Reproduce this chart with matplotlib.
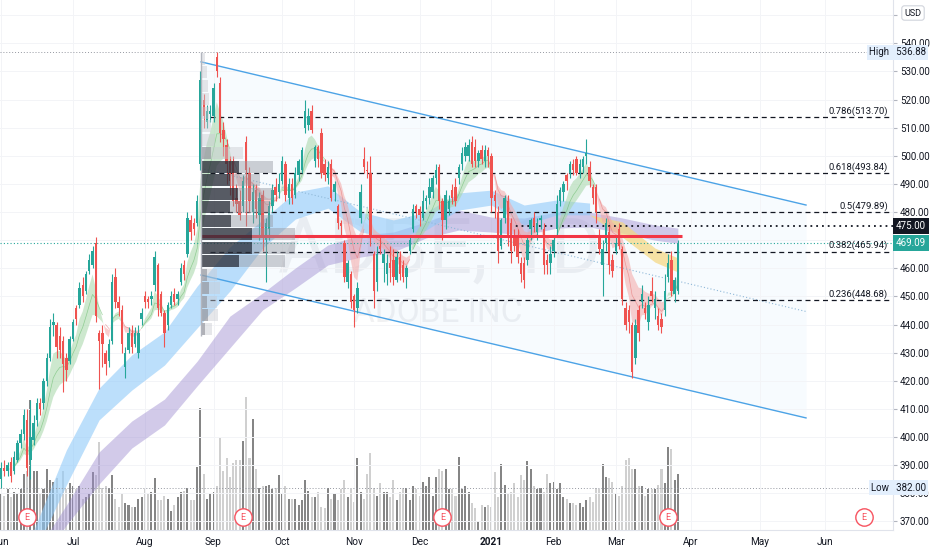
import matplotlib
matplotlib.use("Agg")
import matplotlib.pyplot as plt
import matplotlib.transforms as mtransforms
import numpy as np
import pandas as pd

plt.rcParams['font.family'] = ['Roboto', 'DejaVu Sans']

# NYSE holidays in the shown range
holidays = ['2020-07-03', '2020-09-07', '2020-11-26', '2020-12-25', '2021-01-01',
            '2021-01-18', '2021-02-15', '2021-04-02', '2021-05-31']

# daily candles, 2020-06-01 .. 2021-03-26
opens = [385, 389, 388, 391, 388, 392, 398, 401, 406, 392, 399, 406, 412, 412, 420, 428, 440, 440, 436, 434,
         428, 427, 435, 446, 447, 454, 452, 459, 461, 469, 437, 437, 430, 427, 434, 457, 448, 445, 425, 431,
         437, 433, 430, 442, 450, 449, 449, 454, 461, 451, 444, 440, 447, 451, 449, 455, 461, 465, 477, 476,
         476, 497, 520, 512, 515, 514, 535, 526, 509, 504, 498, 498, 485, 484, 482, 505, 494, 480, 488, 479,
         486, 470, 474, 482, 489, 487, 491, 497, 485, 490, 486, 493, 495, 510, 511, 516, 498, 503, 508, 497,
         492, 497, 487, 482, 476, 469, 455, 458, 450, 446, 478, 499, 495, 494, 465, 455, 468, 462, 458, 462,
         463, 456, 464, 461, 457, 466, 474, 482, 481, 478, 484, 485, 487, 492, 496, 484, 477, 481, 488, 489,
         492, 497, 500, 500, 505, 503, 498, 502, 498, 502, 500, 486, 480, 468, 478, 484, 476, 472, 472, 462,
         462, 463, 474, 478, 473, 477, 474, 463, 462, 466, 474, 484, 487, 493, 494, 497, 499, 494, 496, 500,
         496, 489, 489, 472, 461, 469, 473, 463, 466, 474, 467, 446, 445, 440, 428, 445, 448, 446, 441, 452,
         446, 443, 442, 445, 457, 463, 451, 452]
highs = [391, 392, 391, 393, 395, 399, 403, 410, 410, 413, 408, 414, 414, 421, 430, 442, 444, 441, 439, 436,
         430, 436, 442, 447, 455, 457, 459, 465, 468, 471, 438, 440, 431, 435, 458, 460, 450, 447, 432, 439,
         440, 439, 440, 446, 452, 450, 452, 466, 462, 452, 445, 448, 452, 453, 452, 462, 463, 480, 479, 478,
         486, 530, 522, 518, 518, 526, 536.88, 528, 512, 506, 500, 500, 490, 488, 493, 507, 496, 490, 490, 487,
         488, 478, 484, 490, 492, 494, 500, 498, 492, 492, 496, 499, 503, 520, 517, 518, 504, 504, 510, 499,
         498, 499, 491, 483, 477, 470, 463, 459, 451, 455, 490, 503, 498, 500, 466, 468, 471, 467, 465, 468,
         467, 466, 466, 463, 461, 471, 483, 483, 482, 488, 486, 492, 493, 497, 497, 485, 488, 486, 490, 492,
         497, 503, 505, 506, 507, 506, 502, 504, 504, 503, 501, 488, 482, 478, 486, 486, 478, 474, 474, 464,
         464, 472, 478, 480, 478, 479, 476, 465, 468, 472, 486, 489, 491, 494, 498, 499, 500, 499, 500, 506,
         498, 490, 490, 474, 470, 478, 475, 465, 472, 476, 468, 448, 447, 441, 442, 447, 454, 448, 450, 457,
         452, 446, 444, 458, 465, 466, 457, 470]
lows = [382, 386, 386, 384, 387, 391, 396, 399, 386, 385, 397, 404, 408, 410, 418, 427, 436, 428, 428, 416,
        420, 426, 434, 440, 446, 448, 451, 458, 460, 441, 417, 425, 422, 425, 433, 446, 443, 430, 421, 430,
        430, 432, 428, 440, 446, 446, 447, 452, 443, 443, 432, 438, 446, 447, 447, 454, 456, 464, 470, 472,
        475, 495, 510, 510, 512, 512, 528, 505, 500, 490, 486, 482, 480, 477, 480, 475, 480, 476, 478, 470,
        466, 455, 470, 480, 484, 485, 490, 484, 483, 483, 485, 491, 494, 508, 509, 508, 496, 496, 492, 491,
        490, 484, 484, 474, 472, 455, 453, 446, 439, 444, 476, 494, 492, 468, 446, 452, 465, 455, 454, 455,
        454, 455, 456, 455, 453, 465, 473, 478, 475, 477, 481, 483, 485, 490, 481, 470, 474, 479, 483, 482,
        490, 495, 498, 498, 496, 496, 496, 497, 496, 496, 480, 478, 462, 467, 476, 468, 462, 466, 462, 455,
        453, 461, 470, 473, 470, 474, 458, 458, 458, 464, 472, 482, 484, 488, 492, 493, 493, 492, 494, 497,
        489, 483, 476, 465, 450, 466, 458, 457, 465, 467, 447, 438, 437, 421, 426, 434, 446, 442, 438, 448,
        442, 438, 437, 443, 455, 450, 448, 451]
closes = [389, 388, 390, 386, 393, 398, 401, 408, 389, 400, 405, 412, 410, 420, 428, 439, 441, 432, 431, 426,
          424, 435, 441, 442, 453, 450, 458, 463, 466, 443, 434, 433, 426, 433, 455, 448, 446, 433, 430, 437,
          432, 437, 437, 444, 448, 448, 450, 464, 446, 444, 437, 447, 450, 448, 451, 460, 458, 478, 473, 474,
          484, 527, 514, 516, 516, 524, 530, 508, 506, 497, 491, 484, 483, 479, 491, 495, 484, 487, 481, 485,
          472, 476, 482, 488, 486, 490, 498, 486, 490, 485, 494, 498, 502, 516, 514, 509, 503, 499, 494, 493,
          496, 485, 490, 476, 475, 457, 462, 448, 445, 453, 487, 496, 494.5, 471, 452, 465, 467, 465, 462, 460,
          457, 464, 458, 457, 460, 470, 481, 480, 479, 484, 485, 489, 492, 495, 484, 477, 486, 484, 485, 484,
          496, 501, 503, 504, 497, 498, 501, 499, 502, 500, 485, 484, 466, 477, 485, 472, 466, 468, 464, 458,
          456, 470, 477, 475, 476, 478, 461, 461, 465, 470, 483, 488, 490, 491, 497, 495, 494, 497, 499, 501,
          491, 485, 480, 467, 467, 476, 461, 459, 469, 468, 449, 440, 441, 423, 440, 437, 451, 444, 447, 450,
          449, 440, 439, 452, 462, 452, 456, 469.09]
volumes = [2.3, 2.2, 2.6, 2.1, 2.4, 2.3, 2.6, 3.6, 3.8, 8.3, 3.8, 3.8, 2.3, 2.6, 3.9, 3.2, 3.1, 3.3, 2.3, 3.8,
           2.6, 3.0, 2.8, 2.6, 2.8, 2.0, 2.1, 2.3, 3.7, 3.5, 5.6, 2.7, 2.8, 2.7, 3.5, 2.0, 1.5, 2.3, 1.7, 1.6,
           1.5, 1.5, 2.0, 2.1, 2.6, 2.3, 2.4, 3.3, 1.9, 1.9, 2.2, 2.0, 1.2, 1.6, 2.1, 2.4, 2.5, 2.7, 1.9, 1.9,
           4.0, 7.8, 3.6, 2.0, 2.3, 2.4, 2.8, 5.9, 3.8, 4.6, 3.4, 4.3, 4.5, 4.5, 5.7, 8.5, 4.6, 7.1, 3.9, 2.7,
           2.8, 2.8, 2.9, 2.6, 2.7, 3.5, 2.3, 2.8, 2.0, 2.0, 2.0, 1.6, 1.9, 3.2, 2.5, 2.1, 2.1, 2.4, 1.5, 1.4,
           2.7, 2.0, 2.3, 1.9, 2.6, 3.2, 2.1, 2.6, 1.8, 4.6, 2.4, 2.0, 3.6, 4.9, 2.7, 2.2, 3.0, 2.4, 2.4, 2.1,
           3.2, 1.9, 2.4, 2.7, 2.7, 1.9, 2.8, 2.6, 2.2, 3.1, 2.8, 3.4, 2.2, 3.4, 3.9, 3.8, 3.9, 2.6, 2.6, 2.2,
           4.7, 2.6, 2.8, 2.4, 1.7, 1.4, 0.6, 1.6, 1.5, 1.6, 1.5, 3.7, 2.1, 4.2, 2.9, 2.3, 2.4, 3.0, 2.1, 3.5,
           3.2, 4.4, 3.9, 2.8, 2.6, 2.7, 2.4, 3.6, 3.0, 3.1, 2.6, 3.0, 2.1, 2.0, 1.7, 1.7, 1.6, 1.7, 1.5, 1.9,
           2.1, 1.8, 2.7, 2.6, 4.2, 3.4, 3.3, 3.1, 2.3, 2.2, 2.8, 4.5, 4.6, 3.9, 3.9, 2.8, 2.8, 2.2, 2.6, 2.6,
           2.6, 2.9, 3.9, 3.0, 5.3, 5.2, 3.2, 3.6]

# slow moving-average bands, read every 10 bars
band_bars = [0, 10, 20, 30, 40, 50, 60, 70, 80, 90, 100, 110, 120, 130, 140, 150, 160, 170, 180, 190, 200, 207]
blue_top = [356.3, 366.9, 395.4, 417.4, 429.2, 437.4, 453.7, 467.6, 477.2, 487.1, 489.3, 480.0, 477.2, 480.0,
            486.8, 487.8, 482.5, 484.3, 483.2, 476.5, 467.2, 463.7]
blue_bot = [345.6, 358.1, 383.0, 406.1, 416.7, 425.6, 438.8, 451.9, 467.2, 477.5, 481.4, 472.9, 470.8, 473.6,
            480.7, 482.5, 475.4, 479.0, 479.0, 471.1, 462.2, 458.7]
purple_top = [338.5, 358.1, 375.8, 394.7, 405.7, 413.5, 427.0, 443.0, 451.2, 460.1, 468.3, 471.8, 472.9, 476.5,
              480.7, 478.2, 477.9, 480.0, 480.0, 477.9, 475.4, 474.3]
purple_bot = [333.2, 350.9, 368.7, 383.3, 396.1, 404.3, 418.2, 431.7, 445.2, 453.0, 461.2, 464.0, 465.8, 470.8,
              473.6, 472.9, 471.8, 474.3, 474.7, 472.5, 470.0, 468.9]

# fixed range volume profile, rows from the top (536.88) downwards
profile_top = 536.88
profile_step = 4.8
profile_up = [0, 0, 0, 0, 0, 0, 0, 1.0, 3.8, 2.9, 3.7, 2.9, 3.0, 5.1, 5.1, 3.8, 0.6, 0.8, 0.6, 0.7, 0.4]
profile_down = [0.4, 0.6, 0.7, 0.8, 0.8, 1.0, 1.4, 3.2, 3.4, 3.0, 3.5, 4.0, 4.2, 4.3, 4.3, 4.6, 1.0, 1.1, 1.0,
                1.0, 0.7]
value_area = range(8, 16)

# drawings
channel_bars = [61.2, 246.2]
channel_upper = [533.4, 482.5]
channel_lower = [457.6, 406.8]
fib_ratios = ['0.786', '0.618', '0.5', '0.382', '0.236']
fib_prices = [513.70, 493.84, 479.89, 465.94, 448.68]
support_price = 471.5
alert_price = 475.00
last_price = 469.09
range_high = 536.88
range_low = 382.00
earnings_dates = ['2020-06-11', '2020-09-15', '2020-12-10', '2021-03-23', '2021-06-17']

up_col = '#26a69a'
down_col = '#ef5350'

dates = pd.bdate_range('2020-06-01', '2021-06-30', freq='C', holidays=holidays)
n = len(closes)
x = np.arange(n)
o = np.array(opens, dtype=float)
c = np.array(closes, dtype=float)
rising = c >= o
candle_cols = np.where(rising, up_col, down_col)

fig = plt.figure(figsize=(9.32, 5.5), dpi=100)
rect = [0, 20 / 550, 893 / 932, 530 / 550]
axv = fig.add_axes(rect, zorder=1)
ax = fig.add_axes(rect, zorder=2)
ax.patch.set_alpha(0)

xmin, xmax = -0.3, 272.8
ax.set_xlim(xmin, xmax)
ax.set_ylim(366.95, 555.4)

# volume underneath
axv.set_xlim(xmin, xmax)
axv.set_ylim(0, 33.9)
axv.bar(x, volumes, width=0.62, color=np.where(rising, '#858585', '#d0d0d0'), zorder=1)
axv.axis('off')

# slow bands
bx = np.array(band_bars)
blue_mid = (np.array(blue_top) + np.array(blue_bot)) / 2
purple_mid = (np.array(purple_top) + np.array(purple_bot)) / 2
ax.fill_between(bx, purple_bot, purple_top, color='#9c8bd0', alpha=0.45, lw=0, zorder=1)
ax.fill_between(bx, blue_bot, blue_top, where=blue_mid >= purple_mid, interpolate=True,
                color='#90caf9', alpha=0.6, lw=0, zorder=1.1)
ax.fill_between(bx, blue_bot, blue_top, where=blue_mid < purple_mid, interpolate=True,
                color='#f5d77e', alpha=0.7, lw=0, zorder=1.1)

# fast ribbon from the closes
ema_fast = pd.Series(c).ewm(span=5, adjust=False).mean().values
ema_slow = pd.Series(c).ewm(span=14, adjust=False).mean().values
ema_mid = pd.Series(c).ewm(span=9, adjust=False).mean().values
bull = ema_fast >= ema_slow
ax.fill_between(x, ema_fast, ema_slow, where=bull, interpolate=True, color='#a5d6a7', alpha=0.55, lw=0, zorder=2)
ax.fill_between(x, ema_fast, ema_slow, where=~bull, interpolate=True, color='#f4a7a6', alpha=0.55, lw=0, zorder=2)
ax.plot(x, np.where(bull, ema_mid, np.nan), color='#66bb6a', lw=0.5, alpha=0.6, zorder=2.1)
ax.plot(x, np.where(~bull, ema_mid, np.nan), color='#e57373', lw=0.5, alpha=0.6, zorder=2.1)

# channel
ax.fill_between(channel_bars, channel_lower, channel_upper, color='#2196f3', alpha=0.035, lw=0, zorder=0.5)
ax.plot(channel_bars, channel_upper, color='#4ca3e6', lw=1, zorder=3)
ax.plot(channel_bars, channel_lower, color='#4ca3e6', lw=1, zorder=3)
ax.plot(channel_bars, [(a + b) / 2 for a, b in zip(channel_upper, channel_lower)],
        color='#8fb8d8', lw=0.8, ls=(0, (1, 2)), zorder=3)

# candles
ax.vlines(x, lows, highs, color=candle_cols, lw=0.8, zorder=4)
ax.bar(x, np.maximum(np.abs(c - o), 0.35), bottom=np.minimum(o, c), width=0.74, color=candle_cols, zorder=4.1)

# volume profile
rows = np.arange(len(profile_up))
row_mid = profile_top - profile_step * (rows + 0.5)
tot = np.array(profile_up) + np.array(profile_down)
scale = 28.7 / tot.max()
up_w = np.array(profile_up) * scale
down_w = np.array(profile_down) * scale
start = channel_bars[0]
in_va = np.isin(rows, list(value_area))
ax.barh(row_mid, up_w, left=start, height=profile_step * 0.9,
        color=np.where(in_va, '#2a2e39', '#9a9ca3'), alpha=0.78, lw=0, zorder=5)
ax.barh(row_mid, down_w, left=start + up_w, height=profile_step * 0.9,
        color=np.where(in_va, '#9598a1', '#c9cbd1'), alpha=0.45, lw=0, zorder=5)
ax.vlines(start, profile_top - profile_step * len(rows), profile_top, color='#b2b5be', lw=1, zorder=5)

# fib levels
ax.hlines(fib_prices, 64, 271.5, colors='#131722', linestyles=(0, (4, 3)), lw=0.9, zorder=3)
for r, p in zip(fib_ratios, fib_prices):
    ax.text(271.2, p + 0.4, f"{r}({p:.2f})", ha='right', va='bottom', fontsize=6.8, color='#131722', zorder=6)

# horizontal lines
ax.hlines(support_price, channel_bars[0], n + 0.2, color='#f23645', lw=2.2, zorder=4.5)
ax.hlines(alert_price, 155.7, xmax, color='#131722', linestyles=(0, (1, 2.2)), lw=1.3, zorder=3)
ax.axhline(last_price, color=up_col, ls=(0, (1, 2)), lw=0.8, zorder=3)
ax.axhline(range_high, color='#9598a1', ls=(0, (1, 2)), lw=0.7, zorder=3)
ax.axhline(range_low, color='#9598a1', ls=(0, (1, 2)), lw=0.7, zorder=3)

# watermark
ax.text(0.493, 0.485, "ADBE, 1D", transform=ax.transAxes, ha='center', va='baseline',
        fontsize=56, color='#787b86', alpha=0.1, zorder=0.2)
ax.text(0.49, 0.392, "ADOBE INC", transform=ax.transAxes, ha='center', va='baseline',
        fontsize=24, color='#787b86', alpha=0.1, zorder=0.2)

# earnings markers
trans = mtransforms.blended_transform_factory(ax.transData, ax.transAxes)
epos = dates.get_indexer(pd.to_datetime(earnings_dates))
ax.plot(epos, [0.0245] * len(epos), 'o', ms=12.5, mfc='white', mec='#f7525f', mew=1,
        transform=trans, clip_on=False, zorder=7)
for p in epos:
    ax.text(p, 0.0245, "E", transform=trans, ha='center', va='center', fontsize=6.5,
            color='#f7525f', zorder=8)

# axes; labels hidden behind the scale boxes are left blank
ax.yaxis.tick_right()
ticks = np.arange(370, 551, 10)
ax.set_yticks(ticks)
ax.set_yticklabels(["" if t in (470, 550) else f"{t:.2f}" for t in ticks])
ax.tick_params(axis='y', length=3, color='#b2b5be', labelsize=7, labelcolor='#131722', pad=2)

s = pd.Series(np.arange(len(dates)), index=dates)
firsts = s.groupby([dates.year, dates.month]).first()
mpos = list(firsts.values)
mlabels = [str(y) if m == 1 else pd.Timestamp(year=y, month=m, day=1).strftime('%b') for y, m in firsts.index]
ax.set_xticks(mpos)
ax.set_xticklabels(mlabels)
ax.tick_params(axis='x', length=0, pad=5, labelsize=7.2, labelcolor='#131722')
for lab in ax.get_xticklabels():
    if lab.get_text() == '2021':
        lab.set_fontweight('bold')

ax.grid(color='#f3f4f7', lw=0.7, zorder=0)
ax.set_axisbelow(True)
for side in ['top', 'left']:
    ax.spines[side].set_visible(False)
for side in ['right', 'bottom']:
    ax.spines[side].set_color('#e0e3eb')

# right scale labels
lx = 926 / 893
ax.text(lx, range_high, "High   536.88", transform=ax.get_yaxis_transform(), ha='right', va='center',
        fontsize=7, color='#131722', clip_on=False, zorder=10,
        bbox=dict(boxstyle='square,pad=0.25', fc='#e3effd', ec='none'))
ax.text(lx, range_low, "Low   382.00", transform=ax.get_yaxis_transform(), ha='right', va='center',
        fontsize=7, color='#131722', clip_on=False, zorder=10,
        bbox=dict(boxstyle='square,pad=0.25', fc='#e3effd', ec='none'))
ax.text(lx, alert_price, f"{alert_price:.2f}", transform=ax.get_yaxis_transform(), ha='right', va='center',
        fontsize=7, color='white', clip_on=False, zorder=10,
        bbox=dict(boxstyle='square,pad=0.3', fc='#131722', ec='none'))
ax.text(lx, last_price, f"{last_price:.2f}", transform=ax.get_yaxis_transform(), ha='right', va='center',
        fontsize=7, color='white', clip_on=False, zorder=10,
        bbox=dict(boxstyle='square,pad=0.3', fc=up_col, ec='none'))
fig.text(913 / 932, 1 - 13 / 550, "USD", ha='center', va='center', fontsize=6.5, color='#131722',
         bbox=dict(boxstyle='round,pad=0.3', fc='white', ec='#d1d4dc', lw=0.8))

fig.savefig('out.png', dpi=100)
